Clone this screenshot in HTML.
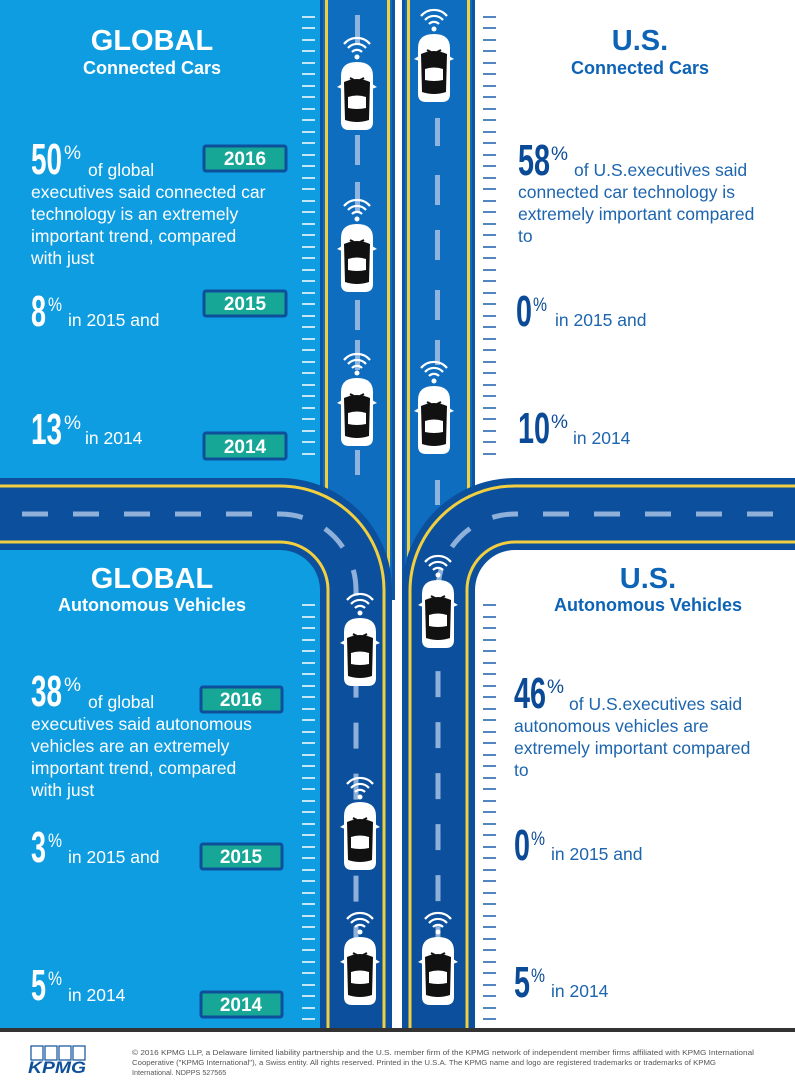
<!DOCTYPE html>
<html><head><meta charset="utf-8"><style>
html,body{margin:0;padding:0;background:#fff}
svg{display:block}
text{font-family:"Liberation Sans",sans-serif}
</style></head><body>
<svg width="795" height="1080" viewBox="0 0 795 1080" xmlns="http://www.w3.org/2000/svg">
<defs>
<g id="car">
  <path d="M-5,-10 A7,7 0 0 1 5,-10" fill="none" stroke="#fff" stroke-width="2.2"/>
  <path d="M-9,-14 A12,12 0 0 1 9,-14" fill="none" stroke="#fff" stroke-width="2.2"/>
  <path d="M-13,-18 A17,17 0 0 1 13,-18" fill="none" stroke="#fff" stroke-width="2.2"/>
  <circle cx="0" cy="-5" r="2.5" fill="#fff"/>
  <path d="M-16,14 Q-16,0 0,0 Q16,0 16,14 L16,60 Q16,68 8,68 L-8,68 Q-16,68 -16,60 Z" fill="#fff"/>
  <path d="M-20,25 L-15,22 L-15,27 Z M20,25 L15,22 L15,27 Z" fill="#fff"/>
  <path d="M-13,20 Q0,14 13,20 L12,58 Q0,62 -12,58 Z" fill="#111"/>
  <path d="M-9,35 Q0,32 9,35 L9,46 Q0,48 -9,46 Z" fill="#fff"/>
  <path d="M-7,16 L-3,18 M7,16 L3,18" stroke="#111" stroke-width="2"/>
</g>
</defs>
<rect x="0" y="0" width="320" height="1028" fill="#0e9de0"/>
<rect x="475" y="0" width="320" height="1028" fill="#fff"/>
<rect x="395" y="0" width="7" height="1028" fill="#fff"/>
<rect x="320" y="0" width="75" height="600" fill="#0f6dbf"/>
<rect x="402" y="0" width="73" height="600" fill="#0f6dbf"/>
<rect x="320" y="0" width="3" height="600" fill="#0b55a4"/>
<rect x="392" y="0" width="3" height="600" fill="#0b55a4"/>
<rect x="402" y="0" width="3" height="600" fill="#0b55a4"/>
<rect x="472" y="0" width="3" height="600" fill="#0b55a4"/>
<g fill="#f2cf3f">
<rect x="325" y="0" width="3" height="600"/><rect x="387" y="0" width="3" height="600"/>
<rect x="407" y="0" width="3" height="600"/><rect x="467" y="0" width="3" height="600"/>
</g>
<g fill="#8fb5de">
<rect x="355" y="15" width="5" height="30"/><rect x="355" y="135" width="5" height="30"/><rect x="355" y="182" width="5" height="30"/><rect x="355" y="300" width="5" height="30"/><rect x="355" y="340" width="5" height="30"/><rect x="355" y="450" width="5" height="25"/>
<rect x="435" y="118" width="5" height="28"/><rect x="435" y="175" width="5" height="30"/><rect x="435" y="230" width="5" height="30"/><rect x="435" y="290" width="5" height="30"/><rect x="435" y="340" width="5" height="25"/><rect x="435" y="480" width="5" height="25"/>
</g>
<rect x="0" y="478" width="280" height="72" fill="#0b4f9d"/>
<rect x="515" y="478" width="280" height="72" fill="#0b4f9d"/>
<path d="M280,478 A112,112 0 0 1 392,590 L392,1028 L320,1028 L320,590 A40,40 0 0 0 280,550 Z" fill="#0b4f9d"/>
<path d="M515,478 A113,113 0 0 0 402,591 L402,1028 L475,1028 L475,590 A40,40 0 0 1 515,550 Z" fill="#0b4f9d"/>
<g fill="none" stroke="#f2cf3f" stroke-width="3">
<path d="M0,486 L280,486 A104,104 0 0 1 384,590 L384,1028"/>
<path d="M0,542 L280,542 A48,48 0 0 1 328,590 L328,1028"/>
<path d="M795,486 L515,486 A105,105 0 0 0 410,591 L410,1028"/>
<path d="M795,542 L515,542 A48,48 0 0 0 467,590 L467,1028"/>
</g>
<g fill="none" stroke="#8fb0d8" stroke-width="5">
<path d="M0,514 L280,514 A76,76 0 0 1 356,590 L356,1028" stroke-dasharray="26 25" stroke-dashoffset="-22"/>
<path d="M795,514 L515,514 A77,77 0 0 0 438,591 L438,1028" stroke-dasharray="26 25" stroke-dashoffset="-22"/>
</g>
<g stroke="#fff" stroke-width="1.6">
<path d="M302,17H315M302,28H315M302,40H315M302,51H315M302,63H315M302,74H315M302,86H315M302,97H315M302,109H315M302,120H315M302,132H315M302,143H315M302,155H315M302,166H315M302,178H315M302,189H315M302,201H315M302,212H315M302,224H315M302,235H315M302,247H315M302,258H315M302,270H315M302,281H315M302,293H315M302,304H315M302,316H315M302,327H315M302,339H315M302,350H315M302,362H315M302,373H315M302,385H315M302,396H315M302,408H315M302,419H315M302,431H315M302,442H315M302,454H315"/>
<path d="M302,605H315M302,617H315M302,628H315M302,640H315M302,651H315M302,663H315M302,674H315M302,686H315M302,697H315M302,709H315M302,720H315M302,732H315M302,743H315M302,755H315M302,766H315M302,778H315M302,789H315M302,801H315M302,812H315M302,824H315M302,835H315M302,847H315M302,858H315M302,870H315M302,881H315M302,893H315M302,904H315M302,916H315M302,927H315M302,939H315M302,950H315M302,962H315M302,973H315M302,985H315M302,996H315M302,1008H315M302,1019H315"/>
</g>
<g stroke="#1a5fa8" stroke-width="1.6" transform="translate(181,0)">
<path d="M302,17H315M302,28H315M302,40H315M302,51H315M302,63H315M302,74H315M302,86H315M302,97H315M302,109H315M302,120H315M302,132H315M302,143H315M302,155H315M302,166H315M302,178H315M302,189H315M302,201H315M302,212H315M302,224H315M302,235H315M302,247H315M302,258H315M302,270H315M302,281H315M302,293H315M302,304H315M302,316H315M302,327H315M302,339H315M302,350H315M302,362H315M302,373H315M302,385H315M302,396H315M302,408H315M302,419H315M302,431H315M302,442H315M302,454H315"/>
<path d="M302,605H315M302,617H315M302,628H315M302,640H315M302,651H315M302,663H315M302,674H315M302,686H315M302,697H315M302,709H315M302,720H315M302,732H315M302,743H315M302,755H315M302,766H315M302,778H315M302,789H315M302,801H315M302,812H315M302,824H315M302,835H315M302,847H315M302,858H315M302,870H315M302,881H315M302,893H315M302,904H315M302,916H315M302,927H315M302,939H315M302,950H315M302,962H315M302,973H315M302,985H315M302,996H315M302,1008H315M302,1019H315"/>
</g>
<use href="#car" x="357" y="62"/><use href="#car" x="357" y="224"/><use href="#car" x="357" y="378"/>
<use href="#car" x="434" y="34"/><use href="#car" x="434" y="386"/>
<use href="#car" x="360" y="618"/><use href="#car" x="360" y="802"/><use href="#car" x="360" y="937"/>
<use href="#car" x="438" y="580"/><use href="#car" x="438" y="937"/>
<g fill="#17a797" stroke="#0d4f9a" stroke-width="3">
<rect x="204" y="146" width="82" height="25" rx="2"/><rect x="204" y="291" width="82" height="25" rx="2"/><rect x="204" y="433" width="82" height="26" rx="2"/>
<rect x="201" y="687" width="81" height="25" rx="2"/><rect x="201" y="844" width="81" height="25" rx="2"/><rect x="201" y="992" width="81" height="25" rx="2"/>
</g>
<g fill="#fff" font-weight="bold" font-size="19" text-anchor="middle">
<text x="245" y="165">2016</text><text x="245" y="310">2015</text><text x="245" y="453">2014</text>
<text x="241" y="706">2016</text><text x="241" y="863">2015</text><text x="241" y="1011">2014</text>
</g>
<g fill="#fff">
<text x="152" y="50" font-size="29" font-weight="bold" text-anchor="middle">GLOBAL</text>
<text x="152" y="74" font-size="18" font-weight="bold" text-anchor="middle">Connected Cars</text>
<text x="152" y="588" font-size="29" font-weight="bold" text-anchor="middle">GLOBAL</text>
<text x="152" y="611" font-size="18" font-weight="bold" text-anchor="middle">Autonomous Vehicles</text>
<g font-size="44" font-weight="bold">
<text x="31" y="174" textLength="31" lengthAdjust="spacingAndGlyphs">50</text>
<text x="31" y="326" textLength="15" lengthAdjust="spacingAndGlyphs">8</text>
<text x="31" y="444" textLength="31" lengthAdjust="spacingAndGlyphs">13</text>
<text x="31" y="706" textLength="31" lengthAdjust="spacingAndGlyphs">38</text>
<text x="31" y="862" textLength="15" lengthAdjust="spacingAndGlyphs">3</text>
<text x="31" y="1000" textLength="15" lengthAdjust="spacingAndGlyphs">5</text>
</g>
<g font-size="19">
<text x="64" y="159" textLength="17" lengthAdjust="spacingAndGlyphs">%</text>
<text x="48" y="311" textLength="14" lengthAdjust="spacingAndGlyphs">%</text>
<text x="64" y="429" textLength="17" lengthAdjust="spacingAndGlyphs">%</text>
<text x="64" y="691" textLength="17" lengthAdjust="spacingAndGlyphs">%</text>
<text x="48" y="847" textLength="14" lengthAdjust="spacingAndGlyphs">%</text>
<text x="48" y="985" textLength="14" lengthAdjust="spacingAndGlyphs">%</text>
</g>
<g font-size="17.5">
<text x="88" y="176">of global</text>
<text x="31" y="198">executives said connected car</text>
<text x="31" y="220">technology is an extremely</text>
<text x="31" y="242">important trend, compared</text>
<text x="31" y="264">with just</text>
<text x="68" y="326">in 2015 and</text>
<text x="85" y="444">in 2014</text>
<text x="88" y="708">of global</text>
<text x="31" y="730">executives said autonomous</text>
<text x="31" y="752">vehicles are an extremely</text>
<text x="31" y="774">important trend, compared</text>
<text x="31" y="796">with just</text>
<text x="68" y="863">in 2015 and</text>
<text x="68" y="1001">in 2014</text>
</g>
</g>
<g fill="#0d63b5" font-weight="bold" text-anchor="middle">
<text x="640" y="50" font-size="29">U.S.</text>
<text x="640" y="74" font-size="18">Connected Cars</text>
<text x="648" y="588" font-size="29">U.S.</text>
<text x="648" y="611" font-size="18">Autonomous Vehicles</text>
</g>
<g fill="#0b4a96" font-weight="bold" font-size="44">
<text x="518" y="175" textLength="32" lengthAdjust="spacingAndGlyphs">58</text>
<text x="516" y="326" textLength="16" lengthAdjust="spacingAndGlyphs">0</text>
<text x="518" y="443" textLength="32" lengthAdjust="spacingAndGlyphs">10</text>
<text x="514" y="708" textLength="32" lengthAdjust="spacingAndGlyphs">46</text>
<text x="514" y="860" textLength="16" lengthAdjust="spacingAndGlyphs">0</text>
<text x="514" y="997" textLength="16" lengthAdjust="spacingAndGlyphs">5</text>
</g>
<g fill="#0b4a96" font-size="19">
<text x="551" y="160" textLength="17" lengthAdjust="spacingAndGlyphs">%</text>
<text x="533" y="311" textLength="14" lengthAdjust="spacingAndGlyphs">%</text>
<text x="551" y="428" textLength="17" lengthAdjust="spacingAndGlyphs">%</text>
<text x="547" y="693" textLength="17" lengthAdjust="spacingAndGlyphs">%</text>
<text x="531" y="845" textLength="14" lengthAdjust="spacingAndGlyphs">%</text>
<text x="531" y="982" textLength="14" lengthAdjust="spacingAndGlyphs">%</text>
</g>
<g fill="#1d65ae" font-size="17.5">
<text x="574" y="176">of U.S.executives said</text>
<text x="518" y="198">connected car technology is</text>
<text x="518" y="220">extremely important compared</text>
<text x="518" y="242">to</text>
<text x="555" y="326">in 2015 and</text>
<text x="573" y="444">in 2014</text>
<text x="569" y="710">of U.S.executives said</text>
<text x="514" y="732">autonomous vehicles are</text>
<text x="514" y="754">extremely important compared</text>
<text x="514" y="776">to</text>
<text x="551" y="860">in 2015 and</text>
<text x="551" y="997">in 2014</text>
</g>
<rect x="0" y="1028" width="795" height="4" fill="#333"/>
<g stroke="#0d4f9a" stroke-width="1.2" fill="none">
<rect x="31" y="1046" width="12" height="14"/><rect x="45" y="1046" width="12" height="14"/><rect x="59" y="1046" width="12" height="14"/><rect x="73" y="1046" width="12" height="14"/>
</g>
<text x="28" y="1073" font-size="17" font-weight="bold" font-style="italic" fill="#0d4f9a" textLength="58" lengthAdjust="spacingAndGlyphs">KPMG</text>
<g fill="#555" font-size="7.2">
<text x="132" y="1055" textLength="622" lengthAdjust="spacingAndGlyphs">© 2016 KPMG LLP, a Delaware limited liability partnership and the U.S. member firm of the KPMG network of independent member firms affiliated with KPMG International</text>
<text x="132" y="1065" textLength="584" lengthAdjust="spacingAndGlyphs">Cooperative ("KPMG International"), a Swiss entity. All rights reserved. Printed in the U.S.A. The KPMG name and logo are registered trademarks or trademarks of KPMG</text>
<text x="132" y="1075">International. NDPPS 527565</text>
</g>
</svg>
</body></html>
